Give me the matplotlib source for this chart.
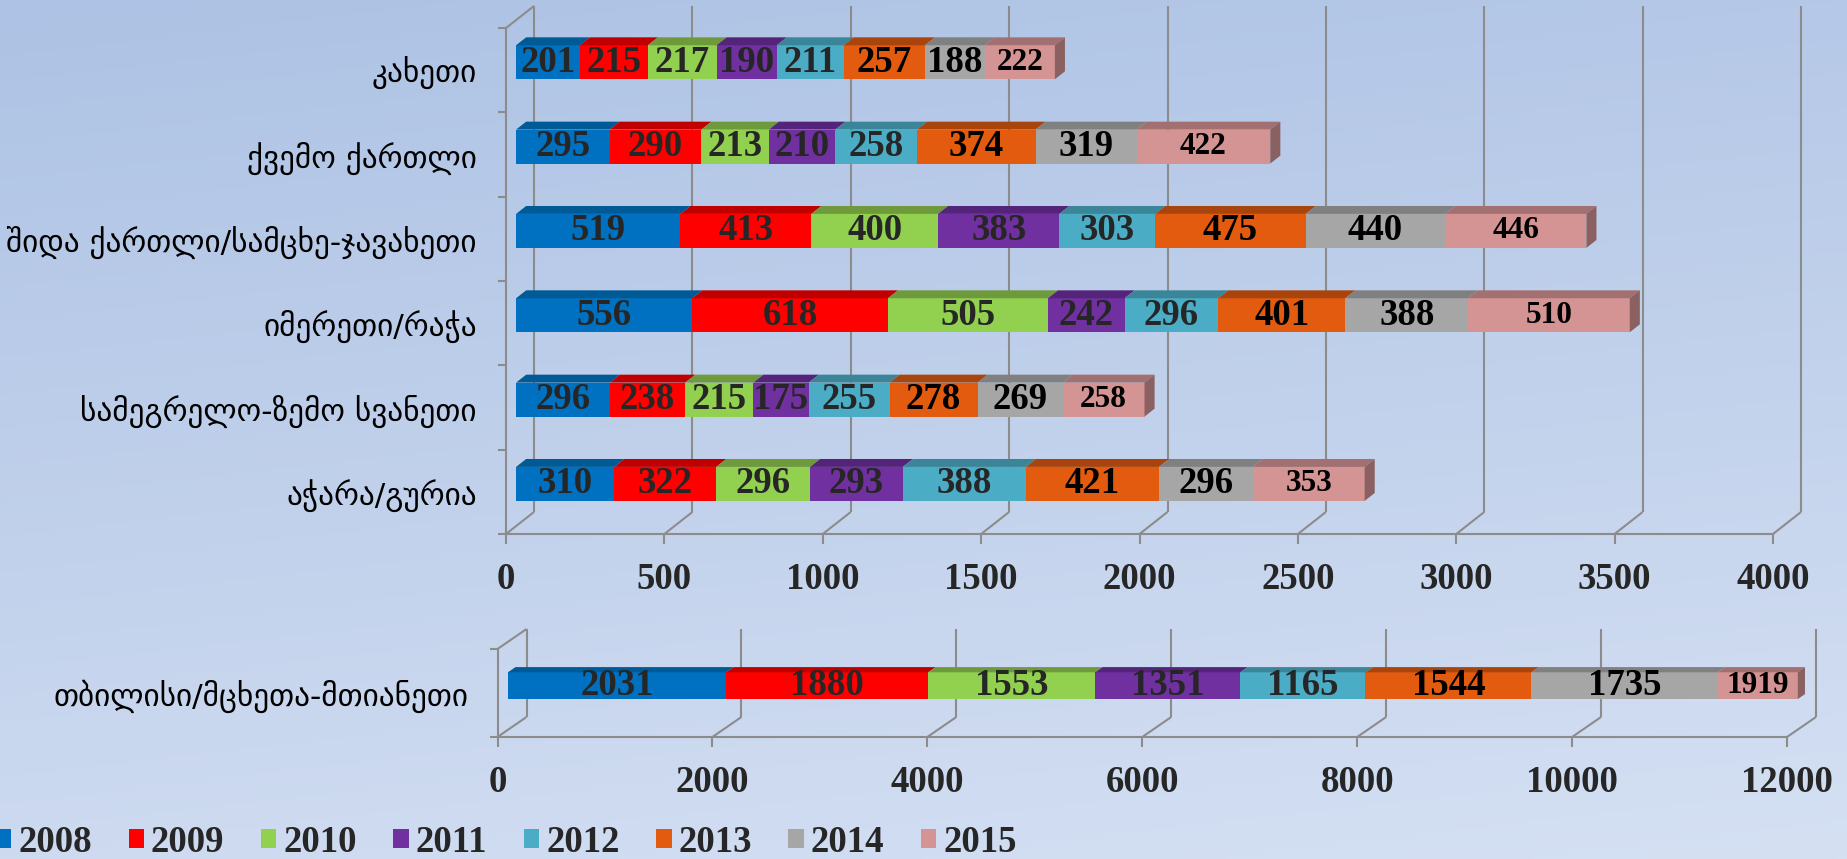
import numpy as np
import matplotlib
matplotlib.use("Agg")
import matplotlib.pyplot as plt
from matplotlib.patches import Polygon, Patch
from matplotlib.colors import to_rgb

# ---------------- data ----------------
regions = ['კახეთი', 'ქვემო ქართლი', 'შიდა ქართლი/სამცხე-ჯავახეთი',
           'იმერეთი/რაჭა', 'სამეგრელო-ზემო სვანეთი', 'აჭარა/გურია']
years = ['2008', '2009', '2010', '2011', '2012', '2013', '2014', '2015']
v2008 = [201, 295, 519, 556, 296, 310]
v2009 = [215, 290, 413, 618, 238, 322]
v2010 = [217, 213, 400, 505, 215, 296]
v2011 = [190, 210, 383, 242, 175, 293]
v2012 = [211, 258, 303, 296, 255, 388]
v2013 = [257, 374, 475, 401, 278, 421]
v2014 = [188, 319, 440, 388, 269, 296]
v2015 = [222, 422, 446, 510, 258, 353]

tbilisi_region = ['თბილისი/მცხეთა-მთიანეთი']
tbilisi = [2031, 1880, 1553, 1351, 1165, 1544, 1735, 1919]

top_ticks = [0, 500, 1000, 1500, 2000, 2500, 3000, 3500, 4000]
bottom_ticks = [0, 2000, 4000, 6000, 8000, 10000, 12000]

# ---------------- style ----------------
W, H, DPI = 1847, 859, 100
face = ['#0070C0', '#FF0000', '#92D050', '#7030A0', '#4BACC6', '#E25B0E', '#A6A6A6', '#D49494']
topc = ['#005A96', '#C00000', '#6E9A3C', '#54247A', '#3A8598', '#A8440C', '#808080', '#A27070']
side_c = '#8A6060'
lab_c = ['#262626', '#262626', '#262626', '#262626', '#262626', 'black', 'black', 'black']
GRID = '#8C8C8C'
LW = 1.5
NUM_FS = 26.5
NUM_FS_SMALL = 22.5
CAT_FS = 22.5

plt.rcParams['font.family'] = ['Liberation Serif', 'DejaVu Sans']
plt.rcParams['font.weight'] = 'bold'

fig = plt.figure(figsize=(W / DPI, H / DPI), dpi=DPI)

# background gradient
bg = fig.add_axes([0, 0, 1, 1], zorder=-10)
gy, gx = np.mgrid[0:1:200j, 0:1:200j]
t = np.clip(0.8 * gy + 0.2 * gx, 0, 1)
c0 = np.array(to_rgb('#ADC2E4'))
c1 = np.array(to_rgb('#D5E0F3'))
img = c0[None, None, :] * (1 - t[..., None]) + c1[None, None, :] * t[..., None]
bg.imshow(img, extent=[0, 1, 0, 1], aspect='auto', origin='upper')
bg.axis('off')


def px_box(l, t_, r, b):
    return [l / W, 1 - b / H, (r - l) / W, (b - t_) / H]


def draw_chart(ax, cats, series, ticks, xmax, DX, DY, bar_px, d0, d1):
    n = len(cats)
    pos = ax.get_position()
    wpx = pos.width * W
    hpx = pos.height * H
    ax.set_xlim(0, xmax)
    ax.set_ylim(-0.5, n - 0.5)
    ppx = wpx / xmax
    ppy = hpx / n
    wx, wy = DX / ppx, DY / ppy
    ypos = np.arange(n)[::-1].astype(float)
    ax.patch.set_alpha(0)
    for s in ['top', 'right']:
        ax.spines[s].set_visible(False)
    for s in ['left', 'bottom']:
        ax.spines[s].set_color(GRID)
        ax.spines[s].set_linewidth(LW)
    # walls
    kw = dict(color=GRID, lw=LW, clip_on=False, zorder=1, solid_capstyle='butt')
    for tk in ticks:
        ax.plot([tk, tk + wx], [-0.5, -0.5 + wy], **kw)
        ax.plot([tk + wx, tk + wx], [-0.5 + wy, n - 0.5 + wy], **kw)
    ax.plot([0, wx], [n - 0.5, n - 0.5 + wy], **kw)
    # bars
    h = bar_px / ppy
    fx, fy = d0 * wx, d0 * wy
    bx, by = (d1 - d0) * wx, (d1 - d0) * wy
    left = np.zeros(n)
    for k, vals in enumerate(series):
        vals = np.asarray(vals, float)
        right = np.minimum(left + vals, xmax)
        width = right - left
        ax.barh(ypos + fy, width, left=left + fx, height=h, color=face[k],
                zorder=3, clip_on=False, linewidth=0)
        fs = NUM_FS_SMALL if k == len(series) - 1 else NUM_FS
        for i in range(n):
            x0, x1 = left[i] + fx, right[i] + fx
            yt = ypos[i] + fy + h / 2
            ax.add_patch(Polygon([(x0, yt), (x1, yt), (x1 + bx, yt + by), (x0 + bx, yt + by)],
                                 closed=True, fc=topc[k], ec='none', zorder=3, clip_on=False))
            ax.text((x0 + x1) / 2, ypos[i] + fy, str(int(vals[i])), ha='center', va='center',
                    fontsize=fs, color=lab_c[k], fontweight='bold', zorder=5, clip_on=False)
        left = right
    for i in range(n):
        x1 = left[i] + fx
        yt = ypos[i] + fy + h / 2
        yb = yt - h
        ax.add_patch(Polygon([(x1, yb), (x1, yt), (x1 + bx, yt + by), (x1 + bx, yb + by)],
                             closed=True, fc=side_c, ec='none', zorder=3, clip_on=False))
    # ticks
    ax.set_xticks(ticks)
    ax.set_xticklabels([str(v) for v in ticks])
    ax.tick_params(axis='x', length=7.2, width=LW, color=GRID, pad=13,
                   labelsize=NUM_FS, labelcolor='#262626')
    ax.set_yticks(np.arange(n + 1) - 0.5)
    ax.set_yticklabels([''] * (n + 1))
    ax.tick_params(axis='y', which='major', length=5.8, width=LW, color=GRID)
    ax.set_yticks(ypos, labels=cats, minor=True)
    ax.tick_params(axis='y', which='minor', length=0, pad=21, labelsize=CAT_FS, labelcolor='black')
    for lbl in ax.get_yticklabels(minor=True):
        lbl.set_fontfamily(['DejaVu Sans'])
        lbl.set_fontweight('normal')


ax1 = fig.add_axes(px_box(506, 28, 1773, 534))
draw_chart(ax1, regions, [v2008, v2009, v2010, v2011, v2012, v2013, v2014, v2015],
           top_ticks, 4000, 28, 22, 34, 0.36, 0.72)

tb_series = [[v] for v in tbilisi]
ax2 = fig.add_axes(px_box(497.5, 649, 1787, 737))
draw_chart(ax2, tbilisi_region, tb_series, bottom_ticks, 12000, 29, 20, 27, 0.36, 0.62)

handles = [Patch(facecolor=c, edgecolor='none') for c in face]
fig.legend(handles, years, ncol=8, loc='center left', bbox_to_anchor=(-4 / W, 1 - 842 / H),
           frameon=False, prop={'family': 'Liberation Serif', 'weight': 'bold', 'size': NUM_FS},
           handlelength=0.42, handleheight=0.42, handletextpad=0.19, columnspacing=0.99,
           borderpad=0, borderaxespad=0, labelcolor='#262626')

fig.savefig('out.png', dpi=DPI)
